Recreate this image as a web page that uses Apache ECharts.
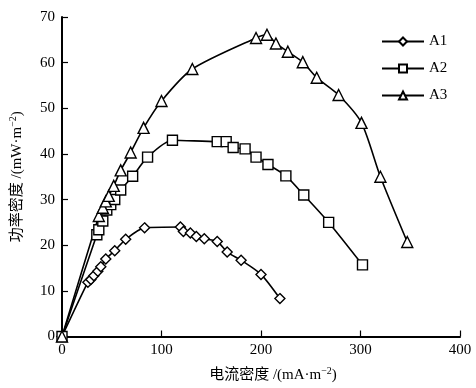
<!DOCTYPE html>
<html>
<head>
<meta charset="utf-8">
<script src="https://cdn.jsdelivr.net/npm/echarts@6/dist/echarts.min.js"></script>
<style>html,body{margin:0;padding:0;background:#fff;}#c{width:476px;height:388px;}</style>
</head>
<body>
<div id="c"></div>
<script>
var seriesNames = ['A1', 'A2', 'A3'];
var a1X = [0, 26, 29, 32, 36, 39, 44, 53, 64, 83, 119, 122, 129, 135, 143, 156, 166, 180, 200, 219];
var a1Y = [0, 11.9, 12.5, 13.3, 14.3, 15.3, 17.0, 18.8, 21.3, 23.8, 24.0, 23.0, 22.7, 21.9, 21.4, 20.8, 18.5, 16.7, 13.6, 8.3];
var a2X = [0, 35, 37, 41, 45, 49, 53, 59, 71, 86, 111, 156, 165, 172, 184, 195, 207, 225, 243, 268, 302];
var a2Y = [0, 22.3, 23.4, 25.3, 27.7, 28.9, 30.0, 32.1, 35.1, 39.3, 43.0, 42.7, 42.7, 41.4, 41.1, 39.3, 37.7, 35.2, 31.0, 25.0, 15.7];
var a3X = [0, 37, 41, 44, 47, 52, 59, 69, 82, 100, 131, 195, 206, 215, 227, 242, 256, 278, 301, 320, 347];
var a3Y = [0, 26.4, 28.2, 29.6, 30.8, 33.0, 36.4, 40.3, 45.7, 51.6, 58.6, 65.4, 66.1, 64.2, 62.4, 60.1, 56.7, 52.9, 46.8, 35.0, 20.7];
var xTicks = [0, 100, 200, 300, 400];
var yTicks = [0, 10, 20, 30, 40, 50, 60, 70];

function pairs(xs, ys) { return xs.map(function (x, i) { return [x, ys[i]]; }); }

var font = 'Liberation Serif, Times New Roman, serif';
var cjk = 'Liberation Serif, Noto Sans CJK SC, serif';

function mk(name, xs, ys, symbol, size) {
  return {
    name: name, type: 'line', data: pairs(xs, ys), smooth: 0.25,
    symbol: symbol, symbolSize: size, showAllSymbol: true,
    lineStyle: { color: '#000', width: 1.6 },
    itemStyle: { color: '#fff', borderColor: '#000', borderWidth: 1.4 },
    emphasis: { disabled: true }, z: 2
  };
}

var chart = echarts.init(document.getElementById('c'), null, { renderer: 'canvas' });
chart.setOption({
  animation: false,
  backgroundColor: '#fff',
  grid: { left: 61, right: 16, top: 17, bottom: 45 },
  legend: {
    orient: 'vertical', left: 376, top: 29, itemGap: 12, itemWidth: 42, itemHeight: 10,
    textStyle: { fontFamily: font, fontSize: 15, color: '#000' },
    data: seriesNames
  },
  xAxis: {
    type: 'value', min: xTicks[0], max: xTicks[xTicks.length - 1], interval: 100,
    axisLine: { lineStyle: { color: '#000', width: 2 } },
    axisTick: { inside: true, length: 6, lineStyle: { color: '#000', width: 1.2 } },
    axisLabel: { color: '#000', fontFamily: font, fontSize: 15, margin: 6 },
    splitLine: { show: false },
    name: '{a|电流密度 /(mA·m}{s|−2}{a|)}', nameLocation: 'middle', nameGap: 30,
    nameTextStyle: {
      padding: [0, 0, 0, 24],
      rich: {
        a: { fontFamily: cjk, fontSize: 15, color: '#000' },
        s: { fontFamily: font, fontSize: 10, color: '#000', padding: [0, 0, 8, 0] }
      }
    }
  },
  yAxis: {
    type: 'value', min: yTicks[0], max: yTicks[yTicks.length - 1], interval: 10,
    axisLine: { lineStyle: { color: '#000', width: 2 } },
    axisTick: { inside: true, length: 6, lineStyle: { color: '#000', width: 1.2 } },
    axisLabel: { color: '#000', fontFamily: font, fontSize: 15, margin: 7 },
    splitLine: { show: false },
    name: '{a|功率密度 /(mW·m}{s|−2}{a|)}', nameLocation: 'middle', nameGap: 36, nameRotate: 90,
    nameTextStyle: {
      rich: {
        a: { fontFamily: cjk, fontSize: 15, color: '#000' },
        s: { fontFamily: font, fontSize: 10, color: '#000', padding: [0, 0, 8, 0] }
      }
    }
  },
  series: [
    mk(seriesNames[0], a1X, a1Y, 'diamond', 10),
    mk(seriesNames[1], a2X, a2Y, 'rect', 10),
    mk(seriesNames[2], a3X, a3Y, 'triangle', 11)
  ]
});
</script>
</body>
</html>
